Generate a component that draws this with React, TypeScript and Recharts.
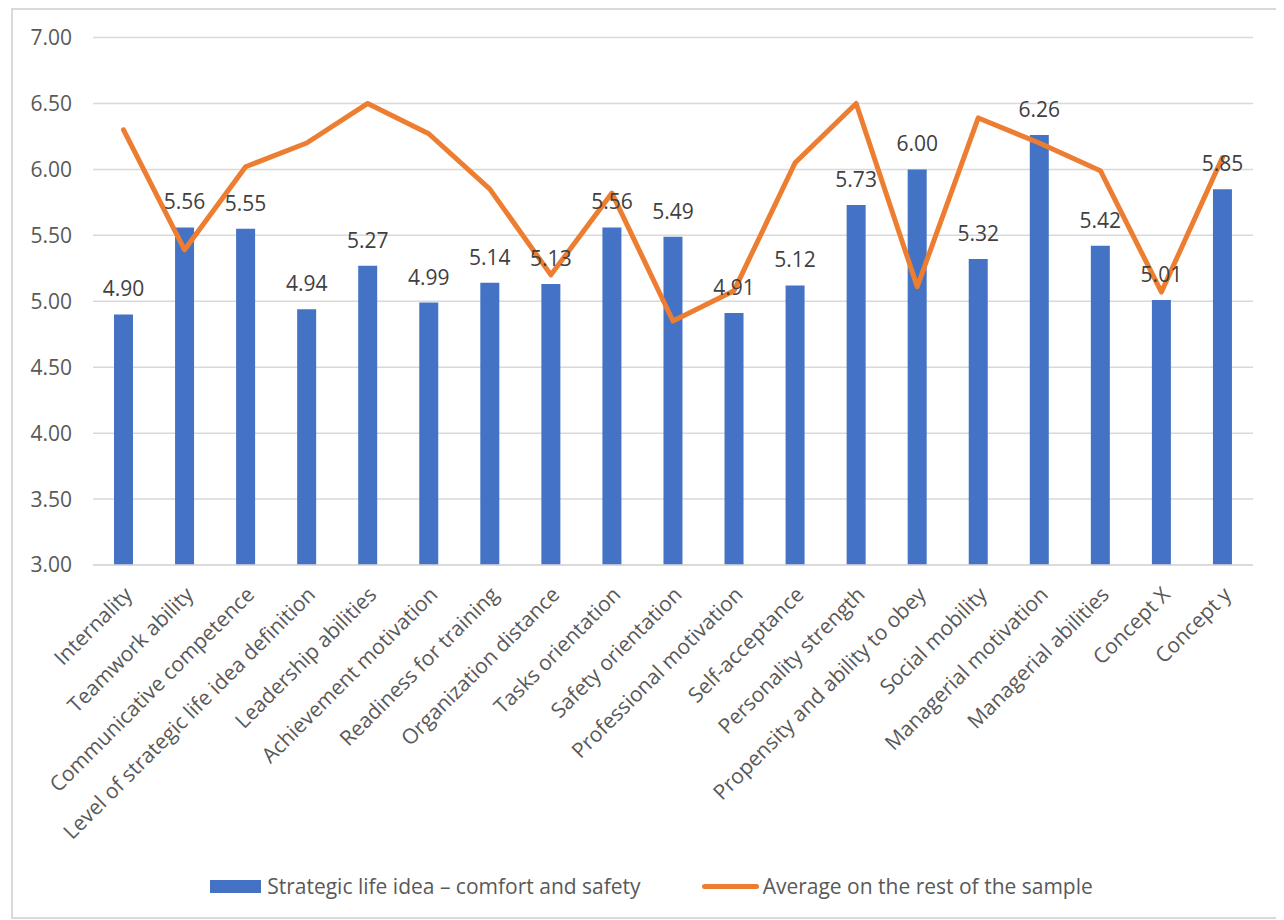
import React from 'react';
import {
  ComposedChart,
  Bar,
  Line,
  XAxis,
  YAxis,
  CartesianGrid,
  Legend,
  LabelList
} from 'recharts';

const categories = [
  'Internality',
  'Teamwork ability',
  'Communicative competence',
  'Level of strategic life idea definition',
  'Leadership abilities',
  'Achievement motivation',
  'Readiness for training',
  'Organization distance',
  'Tasks orientation',
  'Safety orientation',
  'Professional motivation',
  'Self-acceptance',
  'Personality strength',
  'Propensity and ability to obey',
  'Social mobility',
  'Managerial motivation',
  'Managerial abilities',
  'Concept X',
  'Concept y'
];

const comfortSafety = [
  4.9, 5.56, 5.55, 4.94, 5.27, 4.99, 5.14, 5.13, 5.56, 5.49,
  4.91, 5.12, 5.73, 6.0, 5.32, 6.26, 5.42, 5.01, 5.85
];

const restOfSample = [
  6.3, 5.39, 6.02, 6.2, 6.5, 6.27, 5.85, 5.2, 5.82, 4.85,
  5.08, 6.05, 6.5, 5.11, 6.39, 6.2, 5.99, 5.07, 6.09
];

const yTicks = [3, 3.5, 4, 4.5, 5, 5.5, 6, 6.5, 7];

const BAR_NAME = 'Strategic life idea \u2013 comfort and safety';
const LINE_NAME = 'Average on the rest of the sample';

const BLUE = '#4472C4';
const ORANGE = '#ED7D31';
const GRID = '#D9D9D9';
const TEXT = '#595959';
const FONT = '"Open Sans", "Noto Sans", sans-serif';

const data = categories.map((name, i) => ({
  name,
  comfort: comfortSafety[i],
  rest: restOfSample[i]
}));

// category names run up to the right, ending just under their tick
const CategoryTick = (props: any) => {
  const { x, y, payload } = props;
  const tx = x + 10;
  const ty = y + 31;
  return (
    <text
      x={tx}
      y={ty}
      transform={`rotate(-45, ${tx}, ${ty})`}
      textAnchor="end"
      fill={TEXT}
      fontSize={21}
      fontFamily={FONT}
    >
      {payload.value}
    </text>
  );
};

const LegendContent = () => (
  <div
    style={{
      height: 62,
      display: 'flex',
      alignItems: 'center',
      justifyContent: 'center',
      paddingLeft: 10,
      fontFamily: FONT,
      fontSize: 21,
      color: TEXT
    }}
  >
    <span style={{ width: 51, height: 13, background: BLUE, marginRight: 6 }} />
    <span>{BAR_NAME}</span>
    <span
      style={{
        width: 57,
        height: 5,
        borderRadius: 3,
        background: ORANGE,
        marginLeft: 61,
        marginRight: 4
      }}
    />
    <span>{LINE_NAME}</span>
  </div>
);

const App: React.FC = () => {
  return (
    <div
      style={{
        marginLeft: 3,
        width: 1271,
        height: 911,
        border: `2px solid ${GRID}`,
        boxSizing: 'border-box',
        background: '#fff'
      }}
    >
      <ComposedChart
        width={1267}
        height={907}
        data={data}
        margin={{ top: 27.5, right: 27, left: 0, bottom: 0 }}
      >
        <CartesianGrid vertical={false} stroke={GRID} strokeWidth={1.5} />
        <XAxis
          dataKey="name"
          interval={0}
          height={290}
          tickLine={false}
          tickSize={0}
          tickMargin={0}
          axisLine={{ stroke: GRID, strokeWidth: 1.5 }}
          tick={<CategoryTick />}
        />
        <YAxis
          width={80}
          domain={[3, 7]}
          ticks={yTicks}
          tickFormatter={(v: number) => v.toFixed(2)}
          axisLine={false}
          tickLine={false}
          tickSize={0}
          tickMargin={21}
          tick={{ fill: TEXT, fontSize: 21, fontFamily: FONT }}
        />
        <Legend
          verticalAlign="bottom"
          content={<LegendContent />}
          wrapperStyle={{ left: 0, width: 1267, height: 62 }}
        />
        <Bar
          dataKey="comfort"
          name={BAR_NAME}
          fill={BLUE}
          barSize={19}
          isAnimationActive={false}
        >
          <LabelList
            dataKey="comfort"
            position="top"
            offset={18}
            fill="#404040"
            fontSize={21}
            fontFamily={FONT}
            formatter={(v: any) => Number(v).toFixed(2)}
          />
        </Bar>
        <Line
          type="linear"
          dataKey="rest"
          name={LINE_NAME}
          stroke={ORANGE}
          strokeWidth={5}
          strokeLinejoin="round"
          strokeLinecap="round"
          dot={false}
          activeDot={false}
          isAnimationActive={false}
        />
      </ComposedChart>
    </div>
  );
};

export default App;
